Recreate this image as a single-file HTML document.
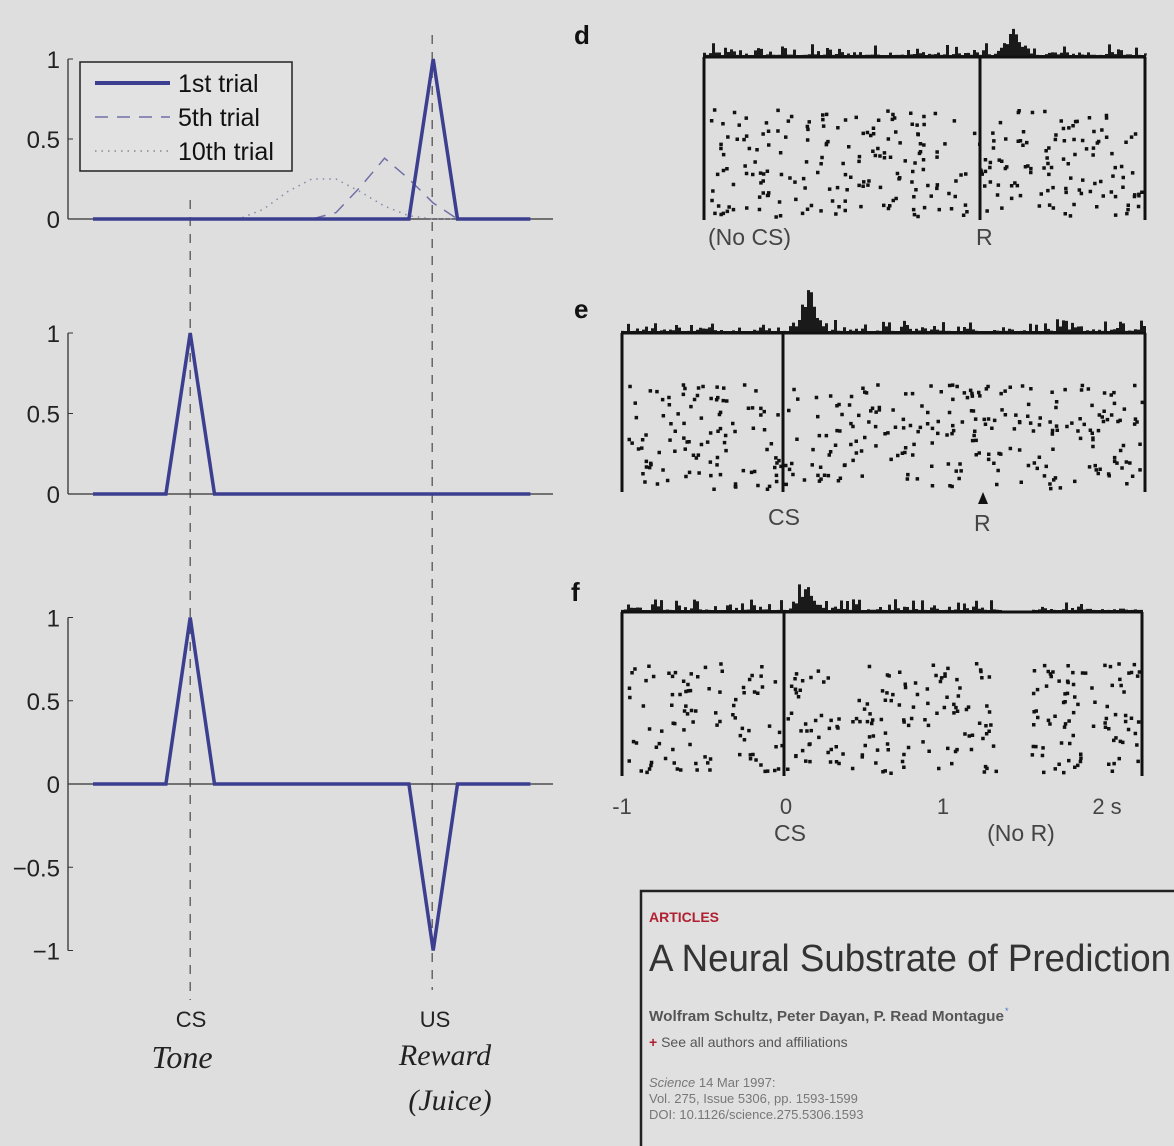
<!DOCTYPE html>
<html><head><meta charset="utf-8"><style>
body{margin:0;background:#dedede;}
svg{display:block;font-family:"Liberation Sans",sans-serif;}
</style></head><body>
<svg id="fig" width="1174" height="1146" viewBox="0 0 1174 1146">
<rect width="1174" height="1146" fill="#dedede"/>
<g id="left"></g>
<g id="right"></g>
<g>
<rect x="641" y="891" width="540" height="270" fill="#e0e0e0" stroke="#222" stroke-width="2.5"/>
<text x="649" y="922" font-size="14" font-weight="bold" fill="#b02030">ARTICLES</text>
<text x="649" y="971" font-size="38" fill="#333" textLength="522" lengthAdjust="spacingAndGlyphs">A Neural Substrate of Prediction</text>
<text x="649" y="1021" font-size="14.5" font-weight="bold" fill="#555" textLength="355" lengthAdjust="spacingAndGlyphs">Wolfram Schultz, Peter Dayan, P. Read Montague</text>
<text x="1005" y="1014" font-size="9" fill="#4477bb">*</text>
<text x="649" y="1047" font-size="14" fill="#555"><tspan fill="#b02030" font-weight="bold">+</tspan> See all authors and affiliations</text>
<text x="649" y="1087" font-size="13" fill="#777"><tspan font-style="italic">Science</tspan>  14 Mar 1997:</text>
<text x="649" y="1103" font-size="13" fill="#777">Vol. 275, Issue 5306, pp. 1593-1599</text>
<text x="649" y="1119" font-size="13" fill="#777">DOI: 10.1126/science.275.5306.1593</text>
</g>
</svg>
<script>
// ---- Model data (time steps 0..18; CS at step 4, US at step 14) ----
const steps = [0,1,2,3,4,5,6,7,8,9,10,11,12,13,14,15,16,17,18];
const p1First = [0,0,0,0,0,0,0,0,0,0,0,0,0,0,1,0,0,0,0];
const p1Fifth = [0,0,0,0,0,0,0,0,0,0,0.04,0.2,0.38,0.25,0.1,0,0,0,0];
const p1Tenth = [0,0,0,0,0,0,0,0.06,0.17,0.25,0.25,0.17,0.08,0.02,0,0,0,0,0];
const p2First = [0,0,0,0,1,0,0,0,0,0,0,0,0,0,0,0,0,0,0];
const p3First = [0,0,0,0,1,0,0,0,0,0,0,0,0,0,-1,0,0,0,0];
const yTicks12 = [0,0.5,1];
const yTicks3 = [-1,-0.5,0,0.5,1];
const csStep = 4, usStep = 14;

const NS="http://www.w3.org/2000/svg";
function mk(tag,attrs,parent){const e=document.createElementNS(NS,tag);for(const k in attrs)e.setAttribute(k,attrs[k]);parent.appendChild(e);return e;}
const L=document.getElementById('left');
const xs=t=>93+t*24.3;
const blue="#3c3f8f";
function panel(y0,scale,ticks,series,name,yMin){
  const g=mk('g',{},L);
  
  
  const ys=v=>y0-v*scale;
  mk('line',{x1:68,y1:ys(1),x2:68,y2:ys(yMin),stroke:'#333','stroke-width':1.3},g);
  mk('line',{x1:68,y1:y0,x2:553,y2:y0,stroke:'#333','stroke-width':1.3},g);
  ticks.forEach(v=>{
    mk('line',{x1:68,y1:ys(v),x2:73,y2:ys(v),stroke:'#333'},g);
    const t=mk('text',{x:60,y:ys(v)+9,'font-size':24,'text-anchor':'end',fill:'#222'},g);
    
    
    t.textContent=(v<0?'\u2212'+(-v):String(v));
  });
  series.forEach(s=>{
    const p=mk('polyline',{points:steps.map((t,i)=>xs(t)+','+ys(s.vals[i])).join(' '),fill:'none',stroke:s.color,'stroke-width':s.w,'stroke-dasharray':s.dash||'','stroke-linejoin':'miter'},g);
    
    
  });
}
const cs=mk('line',{x1:xs(csStep),y1:200,x2:xs(csStep),y2:1000,stroke:'#555','stroke-width':1.3,'stroke-dasharray':'9,8'},L);


const us=mk('line',{x1:xs(usStep)-1,y1:35,x2:xs(usStep)-1,y2:990,stroke:'#555','stroke-width':1.3,'stroke-dasharray':'9,8'},L);



panel(219,160,yTicks12,[
 {vals:p1Tenth,color:'#8888aa',w:1.5,dash:'1.5,5',name:'tenth-trial-line'},
 {vals:p1Fifth,color:'#7070a8',w:1.5,dash:'13,9',name:'fifth-trial-line'},
 {vals:p1First,color:blue,w:3.5,name:'first-trial-line'}],'panel-a',0);
panel(494,161,yTicks12,[{vals:p2First,color:blue,w:3.5,name:'first-trial-line'}],'panel-b',0);
panel(784,166.5,yTicks3,[{vals:p3First,color:blue,w:3.5,name:'first-trial-line'}],'panel-c',-1);

const lg=mk('g',{},L);


mk('rect',{x:80,y:62,width:212,height:109,fill:'#e2e2e2',stroke:'#222','stroke-width':1.5},lg);
mk('line',{x1:95,y1:83,x2:170,y2:83,stroke:blue,'stroke-width':4},lg);
mk('line',{x1:95,y1:117,x2:170,y2:117,stroke:'#7070a8','stroke-width':1.5,'stroke-dasharray':'13,9'},lg);
mk('line',{x1:95,y1:151,x2:170,y2:151,stroke:'#888','stroke-width':1.5,'stroke-dasharray':'1.5,5'},lg);
[['1st trial',92],['5th trial',126],['10th trial',160]].forEach(([s,y])=>{const t=mk('text',{x:178,y:y,'font-size':25,fill:'#111'},lg);t.textContent=s;});

function txt(par,x,y,s,size,name,extra){const t=mk('text',Object.assign({x:x,y:y,'font-size':size,fill:'#222'},extra||{}),par);t.textContent=s;return t;}
txt(L,191,1027,'CS',22,'cs-label',{'text-anchor':'middle'});
txt(L,435,1027,'US',22,'us-label',{'text-anchor':'middle'});
txt(L,182,1068,'Tone',32,'tone-annotation',{'text-anchor':'middle','font-family':'Liberation Serif, serif','font-style':'italic'});
txt(L,445,1065,'Reward',30,'reward-annotation',{'text-anchor':'middle','font-family':'Liberation Serif, serif','font-style':'italic'});
txt(L,450,1110,'(Juice)',30,'juice-annotation',{'text-anchor':'middle','font-family':'Liberation Serif, serif','font-style':'italic'});

// ---- Raster panels (texture) ----
const R=document.getElementById('right');
let seed=12345;function rnd(){seed=(seed*1103515245+12345)%2147483648;return seed/2147483648;}
function raster(name,x0,x1,base,bottom,evx,rasterTop,peakX,peakH,gap){
  const g=mk('g',{},R);
  
  
  let d='M'+x0+','+base;
  for(let x=x0;x<x1;x+=3){
    let h=2+Math.pow(rnd(),4)*12;
    if(gap&&x>gap[0]&&x<gap[1])h=0.5;
    const dd=Math.abs(x-peakX); if(dd<16)h+=peakH*(1-dd/16)*(0.5+0.5*rnd());
    d+=' L'+x+','+(base-h)+' L'+(x+3)+','+(base-h);
  }
  d+=' L'+x1+','+base+' Z';
  mk('path',{d:d,fill:'#1a1a1a'},g);
  mk('line',{x1:x0,y1:base,x2:x1,y2:base,stroke:'#111','stroke-width':3},g);
  mk('line',{x1:x0+1,y1:base,x2:x0+1,y2:bottom,stroke:'#111','stroke-width':3},g);
  mk('line',{x1:x1-1,y1:base,x2:x1-1,y2:bottom,stroke:'#111','stroke-width':3},g);
  mk('line',{x1:evx,y1:base,x2:evx,y2:bottom,stroke:'#111','stroke-width':3},g);
  const n=Math.round((x1-x0)*(bottom-rasterTop)/170);
  let dots='';
  for(let i=0;i<n;i++){
    const x=x0+5+rnd()*(x1-x0-10), y=rasterTop+rnd()*(bottom-rasterTop-4);
    if(gap&&x>gap[0]&&x<gap[1])continue;
    dots+='M'+x.toFixed(1)+','+y.toFixed(1)+'h3.5v3.5h-3.5z';
  }
  mk('path',{d:dots,fill:'#111'},g);
}
raster('raster-d',703,1146,57,220,980,108,1012,28,null);
raster('raster-e',621,1146,333,492,783,383,808,45,null);
raster('raster-f',621,1143,612,776,784,662,804,30,[1000,1030]);
const bold={'font-weight':'bold','fill':'#111'};
txt(R,574,44,'d',26,'panel-d-label',bold);
txt(R,574,318,'e',26,'panel-e-label',bold);
txt(R,571,601,'f',26,'panel-f-label',bold);
const gr={fill:'#444'};
txt(R,708,245,'(No CS)',23,'no-cs-label',gr);
txt(R,976,245,'R',23,'reward-label-d',gr);
txt(R,768,525,'CS',23,'cs-label-e',gr);
mk('path',{d:'M978,504 L983,492 L988,504 Z',fill:'#111'},R);
txt(R,974,531,'R',23,'reward-label-e',gr);
txt(R,622,814,'-1',22,'x-tick-neg1',Object.assign({'text-anchor':'middle'},gr));
txt(R,786,814,'0',22,'x-tick-0',Object.assign({'text-anchor':'middle'},gr));
txt(R,943,814,'1',22,'x-tick-1',Object.assign({'text-anchor':'middle'},gr));
txt(R,1107,814,'2 s',22,'x-tick-2s',Object.assign({'text-anchor':'middle'},gr));
txt(R,790,841,'CS',23,'cs-label-f',Object.assign({'text-anchor':'middle'},gr));
txt(R,1021,841,'(No R)',23,'no-r-label',Object.assign({'text-anchor':'middle'},gr));
</script>
</body></html>
